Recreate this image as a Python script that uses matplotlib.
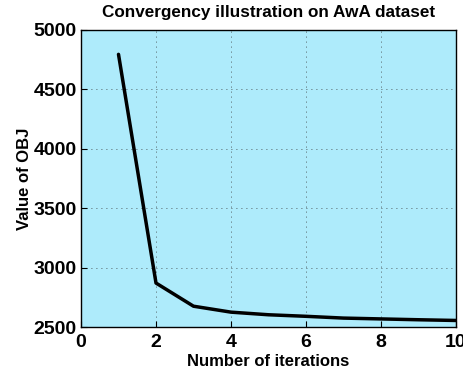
import matplotlib
matplotlib.use("Agg")
import matplotlib.pyplot as plt

iterations = [1, 2, 3, 4, 5, 6, 7, 8, 9, 10]
obj_values = [4795, 2870, 2675, 2625, 2603, 2590, 2575, 2568, 2561, 2555]
x_ticks = [0, 2, 4, 6, 8, 10]
y_ticks = [2500, 3000, 3500, 4000, 4500, 5000]

plt.rcParams['font.family'] = ['Liberation Sans', 'DejaVu Sans']
plt.rcParams['font.weight'] = 'bold'

fig = plt.figure(figsize=(4.64, 3.74), dpi=100)
ax = fig.add_axes([81 / 464, 1 - 327 / 374, 375 / 464, 297 / 374])
ax.set_facecolor('#AEEBFB')

ax.plot(iterations, obj_values, color='black', linewidth=2.5, solid_capstyle='round')

ax.set_xlim(0, 10)
ax.set_ylim(2500, 5000)
ax.set_xticks(x_ticks)
ax.set_yticks(y_ticks)
ax.tick_params(direction='in', length=4, width=0.8, labelsize=14)
ax.tick_params(axis='x', pad=5)
ax.tick_params(axis='y', pad=3)
for lbl in ax.get_xticklabels() + ax.get_yticklabels():
    lbl.set_fontweight('bold')
ax.grid(True, color='#333333', linestyle=(0, (1, 5)), linewidth=0.6)
for sp in ax.spines.values():
    sp.set_linewidth(1.0)

ax.set_title('Convergency illustration on AwA dataset', fontsize=12.3, fontweight='bold', pad=9.5)
ax.set_xlabel('Number of iterations', fontsize=12, fontweight='bold', labelpad=2)
ax.set_ylabel('Value of OBJ', fontsize=12, fontweight='bold', labelpad=1)

fig.savefig('out.png', dpi=100)
